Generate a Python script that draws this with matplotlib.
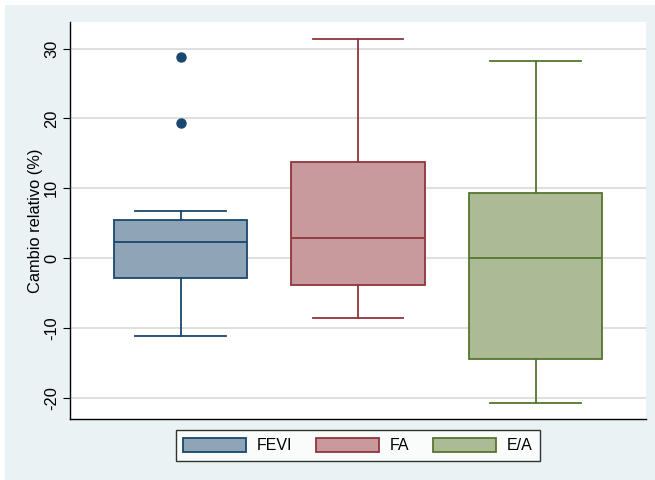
import matplotlib
matplotlib.use("Agg")
import matplotlib.pyplot as plt
from matplotlib.patches import Rectangle, Patch

plt.rcParams['font.family'] = ['Liberation Sans', 'DejaVu Sans']

categories = ["FEVI", "FA", "E/A"]
medians = [2.35, 2.87, 0.0]
q1 = [-2.77, -3.87, -14.4]
q3 = [5.54, 13.75, 9.3]
whisker_low = [-11.17, -8.55, -20.7]
whisker_high = [6.83, 31.4, 28.2]
outliers = [[28.75, 19.4], [], []]
y_ticks = [-20, -10, 0, 10, 20, 30]

fills = ["#90A4B8", "#C99A9D", "#ACBA96"]
edges = ["#1A476F", "#90353B", "#55752F"]
bg = "#EAF2F3"

fig = plt.figure(figsize=(6.55, 4.8), dpi=100, facecolor="white")
fig.patches.append(Rectangle((5/655, 0), 1, 1 - 5/480, transform=fig.transFigure,
                             facecolor=bg, edgecolor="none", zorder=-10))

ax = fig.add_axes([70.3/655, 1 - 419/480, (646 - 70.3)/655, (419 - 22)/480])
ax.set_facecolor("white")

stats = []
for i, c in enumerate(categories):
    stats.append(dict(label=c, med=medians[i], q1=q1[i], q3=q3[i],
                      whislo=whisker_low[i], whishi=whisker_high[i],
                      fliers=outliers[i]))

for i, s in enumerate(stats):
    ax.bxp([s], positions=[i + 1], widths=0.752, patch_artist=True,
           showfliers=True, manage_ticks=False,
           boxprops=dict(facecolor=fills[i], edgecolor=edges[i], linewidth=1.3),
           medianprops=dict(color=edges[i], linewidth=1.3),
           whiskerprops=dict(color=edges[i], linewidth=1.3),
           capprops=dict(color=edges[i], linewidth=1.3),
           capwidths=0.51,
           flierprops=dict(marker="o", markerfacecolor=edges[i],
                           markeredgecolor=edges[i], markersize=6.5,
                           linestyle="none"))

ax.set_xlim(0.379, 3.621)
ax.set_ylim(-23.0, 33.8)
ax.set_yticks(y_ticks)
ax.set_yticklabels([str(t) for t in y_ticks], rotation=90, va="center", fontsize=11.8)
ax.tick_params(axis="y", length=5, width=0.8, pad=3, colors="black")
ax.set_xticks([])
ax.yaxis.grid(True, color="#DCDCDC", linewidth=1.3)
ax.set_axisbelow(True)
for sp in ["top", "right"]:
    ax.spines[sp].set_visible(False)
for sp in ["left", "bottom"]:
    ax.spines[sp].set_linewidth(1.0)
    ax.spines[sp].set_color("black")
ax.set_ylabel("Cambio relativo (%)", fontsize=11.8, labelpad=1)

handles = [Patch(facecolor=fills[i], edgecolor=edges[i], linewidth=1.3, label=c)
           for i, c in enumerate(categories)]
leg = fig.legend(handles=handles, loc="center", bbox_to_anchor=(358/655, 1 - 445.5/480),
                 ncol=3, fontsize=11.5, frameon=True, fancybox=False,
                 edgecolor="black", handlelength=3.9, handleheight=1.05,
                 handletextpad=0.7, columnspacing=1.5, borderpad=0.45,
                 borderaxespad=0)
leg.get_frame().set_linewidth(1.0)
leg.get_frame().set_facecolor("white")

fig.savefig("out.png", dpi=100, facecolor=fig.get_facecolor())
